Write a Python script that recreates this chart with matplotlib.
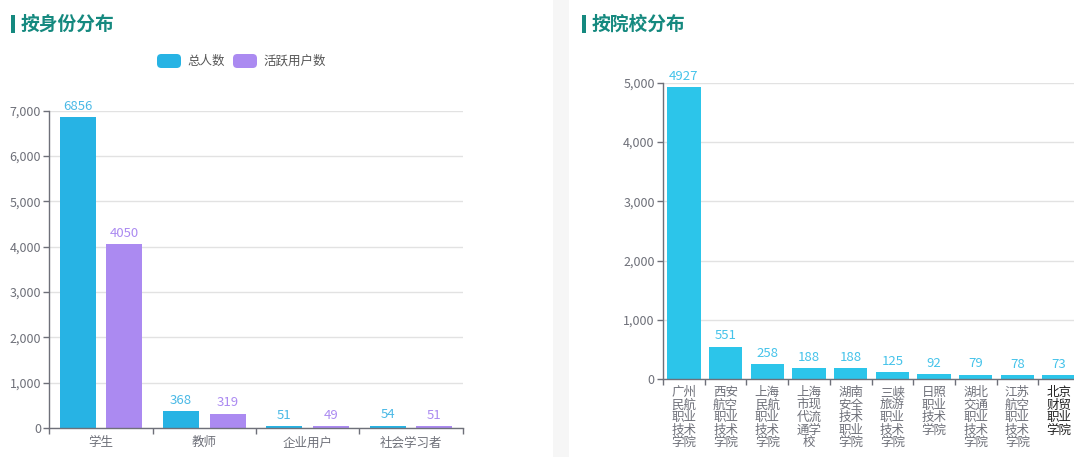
import matplotlib.pyplot as plt
from matplotlib.patches import FancyBboxPatch, Rectangle
import numpy as np

plt.rcParams["font.family"] = ["Noto Sans CJK SC", "DejaVu Sans"]

# data
identity_cats = ["学生", "教师", "企业用户", "社会学习者"]
series_names = ["总人数", "活跃用户数"]
total_users = [6856, 368, 51, 54]
active_users = [4050, 319, 49, 51]

school_names = [
    "广州民航职业技术学院",
    "西安航空职业技术学院",
    "上海民航职业技术学院",
    "上海市现代流通学校",
    "湖南安全技术职业学院",
    "三峡旅游职业技术学院",
    "日照职业技术学院",
    "湖北交通职业技术学院",
    "江苏航空职业技术学院",
    "北京财贸职业学院",
]
school_counts = [4927, 551, 258, 188, 188, 125, 92, 79, 78, 73]

BLUE = "#27b3e4"
PURPLE = "#ab8af1"
CYAN = "#2cc5ea"
TEAL = "#15897f"
AXIS = "#6e7079"
GRID = "#e2e2e2"

W, H = 1074, 457
fig = plt.figure(figsize=(W / 100, H / 100), dpi=100)
fig.patch.set_facecolor("white")


def fx(px):
    return px / W


def fy(py):
    return 1 - py / H


# separator strip between the two panels
fig.patches.append(Rectangle((fx(553), 0), fx(16), 1, transform=fig.transFigure,
                             facecolor="#f6f6f6", edgecolor="none", zorder=0))


def add_title(x, text):
    fig.patches.append(Rectangle((fx(x), fy(33)), fx(4), 18 / H, transform=fig.transFigure,
                                 facecolor=TEAL, edgecolor="none"))
    fig.text(fx(x + 10), fy(24), text, fontsize=13.5, fontweight="bold",
             color=TEAL, va="center", ha="left")


def style_axes(ax, ymax, step):
    ax.set_ylim(0, ymax)
    ax.set_yticks(np.arange(0, ymax + 1, step))
    ax.yaxis.set_major_formatter(plt.FuncFormatter(lambda v, p: f"{int(v):,}"))
    ax.grid(axis="y", color=GRID, linewidth=1)
    ax.set_axisbelow(True)
    for s in ["top", "right"]:
        ax.spines[s].set_visible(False)
    for s in ["left", "bottom"]:
        ax.spines[s].set_color(AXIS)
        ax.spines[s].set_linewidth(1)
    ax.tick_params(axis="y", colors=AXIS, labelsize=9, length=4, pad=2, width=1)
    ax.tick_params(axis="x", which="major", length=0, colors=AXIS, labelsize=9)
    ax.tick_params(axis="x", which="minor", length=4, color=AXIS, width=1)


# ---- left chart: by identity
add_title(11, "按身份分布")
ax1 = fig.add_axes([fx(49.3), 1 - 428 / H, fx(413.4), 317.3 / H])
x = np.arange(len(identity_cats))
bw = 0.35
off = 0.226
b1 = ax1.bar(x - off, total_users, bw, color=BLUE)
b2 = ax1.bar(x + off, active_users, bw, color=PURPLE)
ax1.bar_label(b1, padding=3, color="#4ab9e6", fontsize=9.5)
ax1.bar_label(b2, padding=3, color=PURPLE, fontsize=9.5)
ax1.set_xlim(-0.5, len(identity_cats) - 0.5)
ax1.set_xticks(x)
ax1.set_xticklabels(identity_cats)
ax1.set_xticks(np.arange(-0.5, len(identity_cats)), minor=True)
style_axes(ax1, 7000, 1000)
ax1.tick_params(axis="x", which="major", pad=6)

# legend
lx = 157
for name, col in zip(series_names, [BLUE, PURPLE]):
    fig.patches.append(FancyBboxPatch((fx(lx), fy(68)), fx(24), 14 / H,
                                      boxstyle="round,pad=0,rounding_size=0.004",
                                      transform=fig.transFigure, facecolor=col,
                                      edgecolor="none", mutation_aspect=W / H))
    fig.text(fx(lx + 30), fy(61), name, fontsize=9, color="#555555",
             va="center", ha="left")
    lx += 76

# ---- right chart: by school
add_title(582, "按院校分布")
ax2 = fig.add_axes([fx(663), 1 - 379.3 / H, fx(417), 296.6 / H])
xs = np.arange(len(school_names))
b3 = ax2.bar(xs, school_counts, 0.8, color=CYAN)
ax2.bar_label(b3, padding=3, color="#45c3ea", fontsize=9.5)
ax2.set_xlim(-0.5, len(school_names) - 0.5)
ax2.set_xticks(xs)
labels = ["\n".join(n[i:i + 2] for i in range(0, len(n), 2)) for n in school_names]
ax2.set_xticklabels(labels, linespacing=0.95, va="top", fontsize=8.8)
ax2.set_xticks(np.arange(-0.5, len(school_names)), minor=True)
style_axes(ax2, 5000, 1000)
ax2.tick_params(axis="x", which="major", pad=5)
# last label shows highlighted (darker) in the reference
last = ax2.get_xticklabels()[-1]
last.set_color("#222222")
last.set_fontweight("medium")

fig.savefig("out.png", dpi=100)
